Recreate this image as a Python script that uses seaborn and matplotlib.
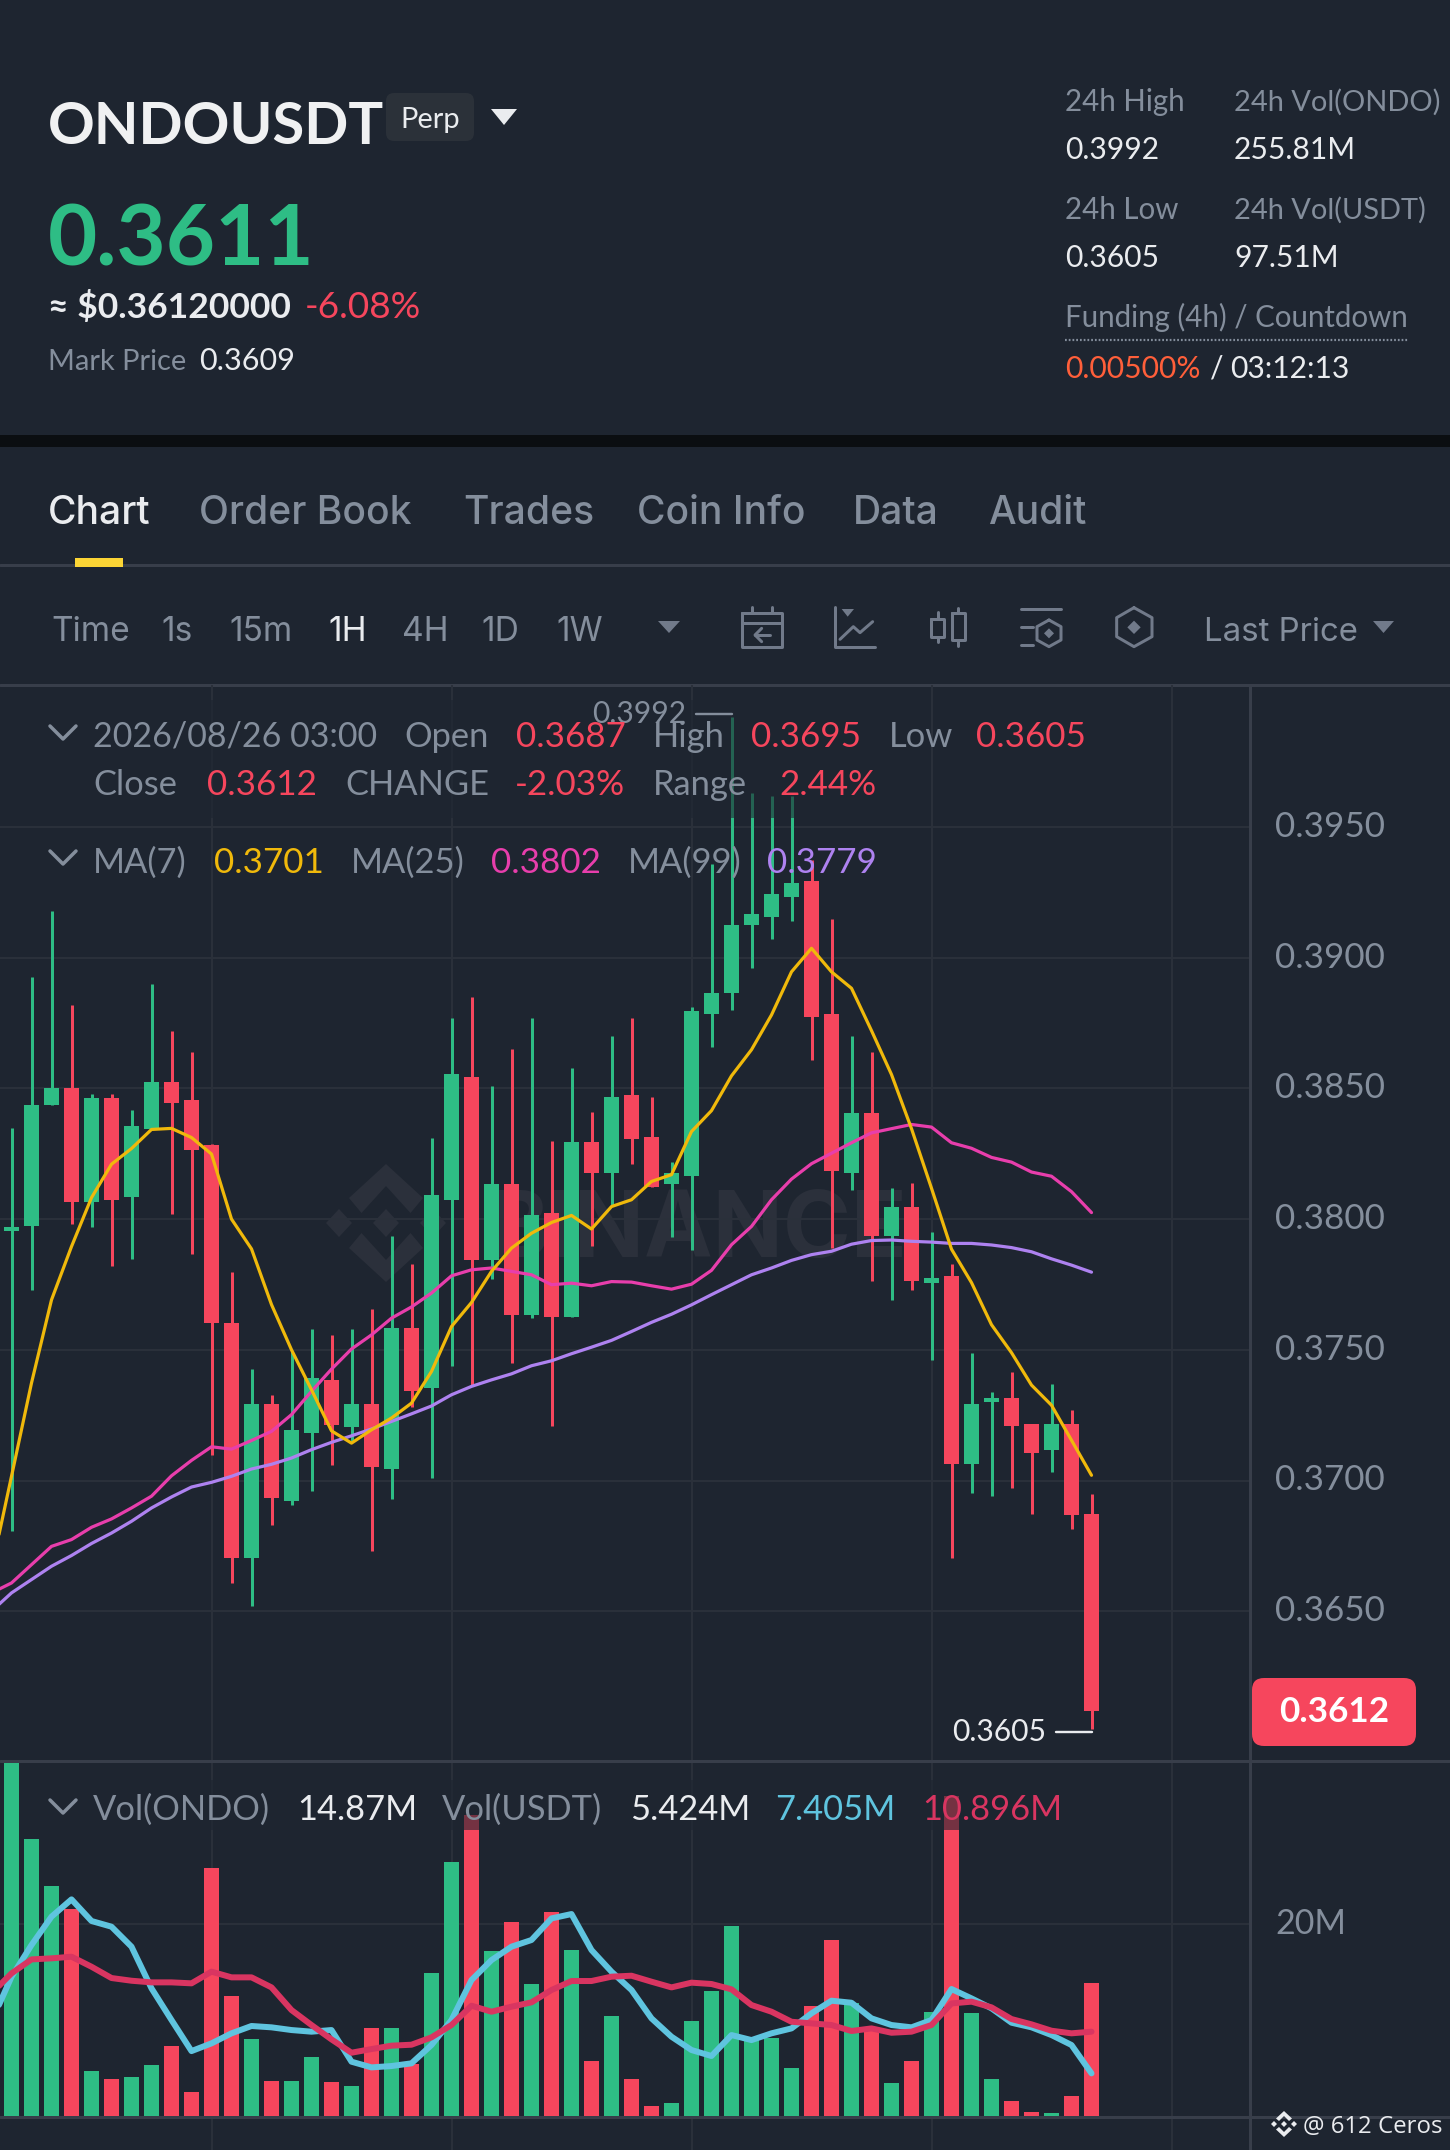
#!/usr/bin/env python3
"""ONDOUSDT perp 1H candlestick screen with MA lines and volume pane."""

import matplotlib

matplotlib.use("Agg")
import matplotlib.pyplot as plt
from matplotlib.lines import Line2D
from matplotlib.patches import FancyBboxPatch, Polygon, Rectangle
from matplotlib.transforms import ScaledTranslation
import pandas as pd
import seaborn as sns

W, H = 1450, 2150

BG = "#1E2530"
BAND = "#0B0E11"
GRID = "#2A303A"
SEP = "#383E4A"
GRAY = "#848E9C"
ICON = "#717A8A"
WHITE = "#EAECEF"
GREEN = "#2EBD85"
RED = "#F6465D"
AMBER = "#F0B90B"
PINK = "#E83EAC"
PURPLE = "#AE82F0"
BLUE = "#5FC4DF"
CRIMSON = "#D93561"

opens = [
    .37954, .37975, .38435, .38503, .38065, .38464, .38086, .38345, .38526, .38456, .38283,
    .37604, .36703, .37294, .36923, .37183, .37383, .37203, .37294, .37043, .37583, .37353,
    .38074, .38545, .37843, .38135, .37634, .38024, .37624, .38295, .38175, .38474, .38315,
    .38134, .38165, .38783, .38864, .39124, .39154, .39233, .39295, .38786, .38175, .38405,
    .37934, .38046, .37757, .37783, .37065, .37299, .37315, .37215, .37116, .37215, .3687,
]
closes = [
    .37971, .38435, .38503, .38065, .38464, .38074, .38355, .38526, .38444, .38265, .37604,
    .36703, .37294, .36933, .37193, .37392, .37212, .37294, .37053, .37583, .37343, .38094,
    .38556, .37843, .38135, .37634, .38015, .37624, .38295, .38175, .38466, .38305, .38124,
    .38175, .38796, .38864, .39125, .39166, .39245, .39286, .38774, .38185, .38405, .37934,
    .38046, .37765, .37775, .37065, .37293, .37315, .37207, .37106, .37215, .36867, .3612,
]
highs = [
    .38347, .38928, .39179, .38819, .38478, .38478, .38418, .38898, .38718, .38638, .38287,
    .37798, .37427, .37328, .37494, .37579, .37557, .37579, .37657, .37937, .37829, .3831,
    .3877, .38848, .38509, .3865, .38769, .383, .38579, .38409, .387, .3877, .38469,
    .38218, .38811, .39358, .39922, .39629, .3962, .3962, .39374, .39149, .387, .38641,
    .38118, .3814, .3795, .37829, .37489, .37339, .37416, .37215, .37368, .37269, .3695,
]
lows = [
    .36808, .37729, .38435, .3798, .37968, .3782, .37848, .38345, .38019, .37868, .37099,
    .36608, .3652, .36829, .36908, .36959, .37058, .3715, .36729, .36929, .3728, .37008,
    .37439, .3736, .3777, .37449, .3762, .37209, .37624, .37899, .38049, .38209, .38124,
    .3793, .3788, .38659, .388, .38959, .3907, .3914, .38608, .37891, .3811, .37762,
    .37692, .3773, .37462, .36704, .36953, .36939, .36972, .36873, .37033, .36814, .3605,
]
volumes = [
    37.0, 28.8, 23.9, 21.55, 4.7, 3.87, 4.15, 5.32, 7.32, 2.56, 25.77,
    12.54, 8.05, 3.73, 3.66, 6.15, 3.59, 3.14, 9.15, 9.15, 5.46, 14.85,
    26.36, 31.26, 17.13, 20.17, 13.75, 21.17, 17.24, 5.73, 10.43, 3.87, 1.14,
    1.38, 9.91, 13.06, 19.72, 7.94, 8.19, 5.0, 11.47, 18.27, 11.74, 8.98,
    3.45, 5.77, 10.81, 33.2, 10.74, 3.87, 1.59, 0.48, 0.35, 2.11, 13.82,
]

# moving averages start one candle left of the picture edge
ma7 = [
    .3666, .37016, .37373, .37691, .37895, .38082, .3821, .3827, .38343, .38347, .38312, .38249,
    .38, .37886, .37673, .375, .37347, .3719, .37143, .37194, .37239, .37296, .37417,
    .37589, .37681, .378, .37889, .37946, .37987, .38014, .37962, .38048, .38074, .38144,
    .3817, .38335, .38415, .38548, .38648, .38781, .38946, .39036, .38946, .38883, .38721,
    .38553, .38346, .38118, .37885, .37757, .37596, .37489, .37365, .37288, .37154, .3702,
]
ma25 = [
    .3657, .36608, .36678, .36748, .36774, .36821, .36853, .36895, .3694, .37018, .37077, .37129,
    .3712, .37153, .37188, .37252, .37341, .37426, .37503, .37557, .37621, .37664, .37717,
    .37783, .37806, .37813, .378, .37787, .37749, .37755, .37745, .37761, .37759, .37745,
    .37732, .37751, .37804, .37902, .37972, .38074, .38153, .38212, .38252, .38292, .3833,
    .38346, .38362, .38352, .38292, .38271, .38236, .38218, .3818, .38164, .38105, .38025,
]
ma99 = [
    .365, .3657, .36621, .36672, .36713, .36759, .36799, .36844, .36895, .36937, .36975, .36993,
    .37016, .37044, .37062, .37086, .37118, .37146, .37171, .37197, .37226, .37255, .37285,
    .37328, .3736, .37385, .37408, .37439, .37458, .37485, .3751, .37536, .3757, .37605,
    .37636, .37672, .37711, .37749, .37787, .37813, .37842, .37864, .37877, .37904, .37918,
    .3792, .37915, .37912, .37907, .37907, .37901, .37891, .37875, .37848, .37824, .37797,
]
vol_ma5 = [
    9.84, 14.5, 17.79, 20.73, 22.52, 20.28, 19.69, 17.62, 13.3, 10.02, 6.8, 7.6,
    8.64, 9.4, 9.26, 8.98, 8.81, 8.98, 5.7, 5.11, 5.25, 5.53, 7.43,
    10.02, 14.16, 16.23, 17.62, 18.31, 20.55, 21.0, 17.27, 15.03, 13.13, 10.19,
    8.29, 6.91, 6.29, 8.46, 7.94, 8.64, 9.15, 10.71, 12.02, 11.81, 10.19,
    9.5, 9.26, 10.02, 13.23, 12.26, 11.23, 9.74, 9.26, 8.46, 7.43, 4.49,
]
vol_ma10 = [
    12.78, 14.85, 16.3, 16.41, 16.58, 15.54, 14.37, 14.09, 13.92, 13.92, 13.82, 15.03,
    14.44, 14.44, 13.4, 11.05, 9.5, 8.01, 6.63, 7.01, 7.36, 7.46, 8.22,
    9.5, 11.5, 10.88, 11.4, 11.85, 13.13, 14.06, 14.06, 14.51, 14.61, 13.99,
    13.4, 13.89, 13.75, 13.2, 11.57, 10.88, 9.84, 9.67, 9.5, 8.88, 9.15,
    8.7, 8.81, 9.5, 11.74, 11.92, 11.33, 10.12, 9.57, 8.91, 8.64, 8.81,
]

price_ticks = [0.3950, 0.3900, 0.3850, 0.3800, 0.3750, 0.3700, 0.3650]
time_gridlines = [10, 22, 34, 46, 58]
tab_labels = ["Chart", "Order Book", "Trades", "Coin Info", "Data", "Audit"]
tab_x = [48, 199, 463, 637, 853, 988]
interval_labels = ["Time", "1s", "15m", "1H", "4H", "1D", "1W"]
interval_x = [51, 161, 229, 328, 402, 481, 556]


def fx(x):
    return x / W


def fy(y):
    return 1 - y / H


def pts(seq):
    return [(fx(x), fy(y)) for x, y in seq]


def main():
    sns.set_theme(style="dark")
    plt.rcParams["font.family"] = ["Lato", "DejaVu Sans"]

    fig = plt.figure(figsize=(W / 100, H / 100), dpi=100, facecolor=BG)

    def text(x, y, s, color=GRAY, px=30, weight="normal", ha="left", va="baseline", z=6, **kw):
        fig.text(fx(x), fy(y), s, color=color, fontsize=px * 0.72, fontweight=weight,
                 ha=ha, va=va, zorder=z, **kw)

    def line(seq, color=ICON, lw=3.0, z=6, **kw):
        xs, ys = zip(*pts(seq))
        fig.add_artist(Line2D(xs, ys, color=color, lw=lw * 0.72, transform=fig.transFigure,
                              zorder=z, solid_capstyle="round", solid_joinstyle="round", **kw))

    def poly(seq, color, z=6, alpha=1.0):
        fig.add_artist(Polygon(pts(seq), closed=True, facecolor=color, edgecolor="none",
                               transform=fig.transFigure, zorder=z, alpha=alpha))

    def rect(x0, y0, x1, y1, color, z=6, alpha=1.0):
        fig.add_artist(Rectangle((fx(x0), fy(y1)), (x1 - x0) / W, (y1 - y0) / H,
                                 facecolor=color, edgecolor="none", transform=fig.transFigure,
                                 zorder=z, alpha=alpha))

    def rounded(x0, y0, x1, y1, color, radius):
        # drawn in pixels so the corners stay round
        fig.add_artist(FancyBboxPatch((x0 + radius, H - y1 + radius),
                                      x1 - x0 - 2 * radius, y1 - y0 - 2 * radius,
                                      boxstyle=f"round,pad={radius},rounding_size={radius}",
                                      facecolor=color, edgecolor="none", transform=None,
                                      zorder=6))

    def tri_down(x0, x1, y0, y1, color):
        poly([(x0, y0), (x1, y0), ((x0 + x1) / 2, y1)], color)

    # tick labels sit a little above their gridlines
    label_lift = ScaledTranslation(0, 3 / 100, fig.dpi_scale_trans)

    # --- page bands and separators ---
    rect(0, 435, W, 447, BAND, z=-2)
    line([(0, 565), (W, 565)], SEP, 3, z=-1)
    line([(0, 685), (W, 685)], SEP, 3, z=-1)
    rect(75, 558, 123, 567, "#FCD535", z=1)

    # --- watermark, behind the panes ---
    cx, cy = 386, 1223
    wm = "#2B303B"
    for sign in (-1, 1):
        poly([(cx, cy + sign * -59), (cx + 37, cy + sign * -25), (cx + 24.5, cy + sign * -10),
              (cx, cy + sign * -37), (cx - 24.5, cy + sign * -10), (cx - 37, cy + sign * -25)],
             wm, z=-1)
    for dx in (-47, 0, 47):
        poly([(cx + dx, cy - 14), (cx + dx + 13, cy), (cx + dx, cy + 14), (cx + dx - 13, cy)],
             wm, z=-1)
    text(488, 1257, "BINANCE", wm, 92, "bold", z=-1, family="Inter")

    # --- price pane ---
    px_per_x = 20.0
    x0_data = -11.5 / px_per_x
    x1_data = (1250 - 11.5) / px_per_x
    units_per_px = 0.005 / 130.7

    ax = fig.add_axes([0, fy(1761), 1250 / W, (1761 - 685) / H], facecolor="none")
    idx = list(range(len(opens)))
    bull = [c >= o for o, c in zip(opens, closes)]
    colors = [GREEN if b else RED for b in bull]

    ax.vlines(idx, lows, highs, colors=colors, linewidth=3 * 0.72, zorder=3)
    ax.bar(idx, [max(abs(c - o), 0.00008) for o, c in zip(opens, closes)],
           bottom=[min(o, c) for o, c in zip(opens, closes)],
           width=0.72, color=colors, linewidth=0, zorder=3)

    ma_frame = pd.DataFrame({"i": list(range(-1, len(opens))), "ma7": ma7, "ma25": ma25, "ma99": ma99})
    for col, c in (("ma99", PURPLE), ("ma25", PINK), ("ma7", AMBER)):
        sns.lineplot(data=ma_frame, x="i", y=col, color=c, linewidth=3.2 * 0.72, ax=ax, zorder=4)

    ax.set_xlim(x0_data, x1_data)
    top = 0.39 + (957.7 - 685) * units_per_px
    bottom = 0.39 - (1761 - 957.7) * units_per_px
    ax.set_ylim(bottom, top)
    ax.set_xticks(time_gridlines)
    ax.set_yticks(price_ticks)
    ax.set_yticklabels([f"{t:.4f}" for t in price_ticks])
    ax.yaxis.tick_right()
    ax.tick_params(axis="y", length=0, pad=18, colors=GRAY, labelsize=35 * 0.72)
    ax.tick_params(axis="x", length=0, labelbottom=False)
    for label in ax.get_yticklabels():
        label.set_transform(label.get_transform() + label_lift)
    ax.grid(True, color=GRID, linewidth=2 * 0.72, zorder=0)
    ax.set_axisbelow(True)
    ax.set_xlabel("")
    ax.set_ylabel("")
    for name, spine in ax.spines.items():
        spine.set_visible(name == "right")
    ax.spines["right"].set_color(SEP)
    ax.spines["right"].set_linewidth(3 * 0.72)

    # 24h extremes, kept above the legend strip
    gap = 3 * units_per_px
    hi_i = highs.index(max(highs))
    lo_i = lows.index(min(lows))
    for i, value, y, c in ((hi_i, max(highs), max(highs) + gap, GRAY), (lo_i, min(lows), min(lows) - gap, WHITE)):
        fig.add_artist(Line2D([i - 1.8, i], [y, y], color=c, lw=2.4 * 0.72, transform=ax.transData, zorder=6))
        fig.text(i - 2.25, y, f"{value:.4f}", color=c, fontsize=30 * 0.72, ha="right", va="center",
                 transform=ax.transData, zorder=6)

    # --- volume pane ---
    px_per_m = 9.65
    ax_v = fig.add_axes([0, 0, 1250 / W, (H - 1756) / H], facecolor="none")
    vol_frame = pd.DataFrame({
        "i": idx,
        "vol": volumes,
        "side": ["up" if b else "down" for b in bull],
    })
    sns.barplot(data=vol_frame, x="i", y="vol", hue="side", hue_order=["up", "down"],
                palette={"up": GREEN, "down": RED}, native_scale=True, dodge=False,
                width=0.72, saturation=1, legend=False, linewidth=0, ax=ax_v, zorder=3)
    vma_frame = pd.DataFrame({"i": list(range(-1, len(opens))), "ma5": vol_ma5, "ma10": vol_ma10})
    sns.lineplot(data=vma_frame, x="i", y="ma5", color=BLUE, linewidth=6 * 0.72, ax=ax_v, zorder=4)
    sns.lineplot(data=vma_frame, x="i", y="ma10", color=CRIMSON, linewidth=6 * 0.72, ax=ax_v, zorder=5)

    ax_v.set_xlim(x0_data, x1_data)
    ax_v.set_ylim(-(H - 2116.7) / px_per_m, (2116.7 - 1756) / px_per_m)
    ax_v.set_xticks(time_gridlines)
    ax_v.set_yticks([20])
    ax_v.set_yticklabels(["20M"])
    ax_v.yaxis.tick_right()
    ax_v.tick_params(axis="y", length=0, pad=18, colors=GRAY, labelsize=34 * 0.72)
    ax_v.tick_params(axis="x", length=0, labelbottom=False)
    for label in ax_v.get_yticklabels():
        label.set_transform(label.get_transform() + label_lift)
    ax_v.grid(True, color=GRID, linewidth=2 * 0.72, zorder=0)
    ax_v.set_axisbelow(True)
    ax_v.set_xlabel("")
    ax_v.set_ylabel("")
    for name, spine in ax_v.spines.items():
        spine.set_visible(name == "right")
    ax_v.spines["right"].set_color(SEP)
    ax_v.spines["right"].set_linewidth(3 * 0.72)

    line([(0, 1761), (W, 1761)], SEP, 3, z=2)
    line([(0, 2117), (W, 2117)], SEP, 3, z=2)

    # legend strips dim whatever runs beneath them
    rect(40, 700, 890, 818, BG, z=5, alpha=0.6)
    rect(40, 1780, 1070, 1830, BG, z=5, alpha=0.6)

    # --- header ---
    text(48, 144, "ONDOUSDT", "#F0F1F2", 58, "bold")
    rounded(386, 93, 474, 141, "#2B3139", 8)
    text(400, 128, "Perp", WHITE, 29)
    tri_down(491, 517, 109, 125, WHITE)
    text(48, 265, "0.3611", GREEN, 85, "bold")
    text(48, 318, "≈ $0.36120000", WHITE, 35.5, "bold")
    text(305, 318, "-6.08%", RED, 37)
    text(48, 370, "Mark Price", GRAY, 29)
    text(199, 370, "0.3609", WHITE, 30.5)

    text(1065, 111, "24h High", GRAY, 29.5)
    text(1234, 111, "24h Vol(ONDO)", GRAY, 29)
    text(1065, 159, "0.3992", WHITE, 30)
    text(1234, 159, "255.81M", WHITE, 30)
    text(1065, 219, "24h Low", GRAY, 29.5)
    text(1234, 219, "24h Vol(USDT)", GRAY, 29)
    text(1065, 267, "0.3605", WHITE, 30)
    text(1234, 267, "97.51M", WHITE, 30)
    text(1065, 327, "Funding (4h) / Countdown", GRAY, 29.5)
    line([(1065, 340), (1409, 340)], GRAY, 2.2, linestyle=(0, (0.8, 0.9)))
    text(1065, 378, "0.00500%", "#FF5F3A", 30)
    text(1210, 378, "/", WHITE, 30)
    text(1230, 378, "03:12:13", WHITE, 30)

    # --- tabs and toolbar ---
    for label, x in zip(tab_labels, tab_x):
        text(x, 524, label, WHITE if label == "Chart" else GRAY, 39, "medium", family="Inter")
    for label, x in zip(interval_labels, interval_x):
        text(x, 641, label, WHITE if label == "1H" else GRAY, 33.5, family="Inter")
    tri_down(658, 680, 621, 633, ICON)
    text(1204, 641, "Last Price", GRAY, 33, family="Inter")
    tri_down(1373, 1394, 621, 633, ICON)

    def z10(seq):
        return [(730 + a / 3, 440 + b / 3) for a, b in seq]

    # calendar
    line(z10([(35, 518), (157, 518), (157, 620), (35, 620), (35, 518)]))
    line(z10([(35, 550), (157, 550)]))
    line(z10([(65, 500), (65, 518)]))
    line(z10([(125, 500), (125, 518)]))
    line(z10([(120, 585), (75, 585)]))
    line(z10([(95, 565), (75, 585), (95, 605)]))
    # line chart
    line(z10([(315, 500), (315, 620), (435, 620)]))
    line(z10([(330, 598), (370, 560), (390, 578), (428, 545)]))
    poly(z10([(335, 507), (372, 507), (353, 530)]), ICON)
    # candles
    line(z10([(604, 537), (642, 537), (642, 590), (604, 590), (604, 537)]))
    line(z10([(623, 515), (623, 537)]))
    line(z10([(623, 590), (623, 605)]))
    line(z10([(667, 520), (705, 520), (705, 600), (667, 600), (667, 520)]))
    line(z10([(685, 503), (685, 520)]))
    line(z10([(685, 600), (685, 618)]))
    # settings
    line(z10([(872, 507), (993, 507)]))
    line(z10([(872, 562), (910, 562)]))
    line(z10([(872, 614), (910, 614)]))
    line(z10([(957, 540), (993, 560), (993, 600), (957, 620), (921, 600), (921, 560), (957, 540)]))
    poly(z10([(957, 565), (972, 580), (957, 595), (942, 580)]), ICON)
    # hexagon
    line(z10([(1212, 503), (1266, 533), (1266, 590), (1212, 620), (1160, 590), (1160, 533), (1212, 503)]))
    poly(z10([(1212, 542), (1232, 562), (1212, 582), (1192, 562)]), ICON)

    # --- candle legend ---
    line([(50, 726), (63, 739), (76, 726)], GRAY, 3.5)
    text(93, 747, "2026/08/26 03:00", GRAY, 34)
    text(404, 747, "Open", GRAY, 34.5)
    text(516, 747, "0.3687", RED, 35)
    text(653, 747, "High", GRAY, 34.5)
    text(751, 747, "0.3695", RED, 35)
    text(889, 747, "Low", GRAY, 34.5)
    text(976, 747, "0.3605", RED, 35)
    text(93, 795, "Close", GRAY, 34.5)
    text(207, 795, "0.3612", RED, 35)
    text(345, 795, "CHANGE", GRAY, 34.5)
    text(515, 795, "-2.03%", RED, 35)
    text(653, 795, "Range", GRAY, 34.5)
    text(779, 795, "2.44%", RED, 35)
    line([(50, 851), (63, 864), (76, 851)], GRAY, 3.5)
    text(93, 873, "MA(7)", GRAY, 34.5)
    text(214, 873, "0.3701", AMBER, 35)
    text(351, 873, "MA(25)", GRAY, 34.5)
    text(491, 873, "0.3802", PINK, 35)
    text(628, 873, "MA(99)", GRAY, 34.5)
    text(767, 873, "0.3779", PURPLE, 35)

    # --- volume legend ---
    line([(50, 1800), (63, 1813), (76, 1800)], GRAY, 3.5)
    text(93, 1820, "Vol(ONDO)", GRAY, 34.5)
    text(297, 1820, "14.87M", WHITE, 34.5)
    text(442, 1820, "Vol(USDT)", GRAY, 34.5)
    text(630, 1820, "5.424M", WHITE, 34.5)
    text(775, 1820, "7.405M", BLUE, 34.5)
    text(922, 1820, "10.896M", CRIMSON, 34.5)

    # --- last price tag ---
    rounded(1252, 1678, 1416, 1746, RED, 12)
    text(1334, 1712, "0.3612", "white", 35, "bold", ha="center", va="center", z=7)

    # --- author tag ---
    lx, ly = 1284, 2124
    for sign in (-1, 1):
        poly([(lx, ly + sign * -13), (lx + 8, ly + sign * -5.5), (lx + 5, ly + sign * -3),
              (lx, ly + sign * -8), (lx - 5, ly + sign * -3), (lx - 8, ly + sign * -5.5)], WHITE)
    for dx in (-10, 0, 10):
        poly([(lx + dx, ly - 3), (lx + dx + 3, ly), (lx + dx, ly + 3), (lx + dx - 3, ly)], WHITE)
    fig.text(fx(1303), fy(2133), "@ 612 Ceros", color=WHITE, fontsize=24 * 0.72,
             family="Open Sans", zorder=6)

    fig.savefig("out.png", dpi=100, facecolor=BG)


if __name__ == "__main__":
    main()
